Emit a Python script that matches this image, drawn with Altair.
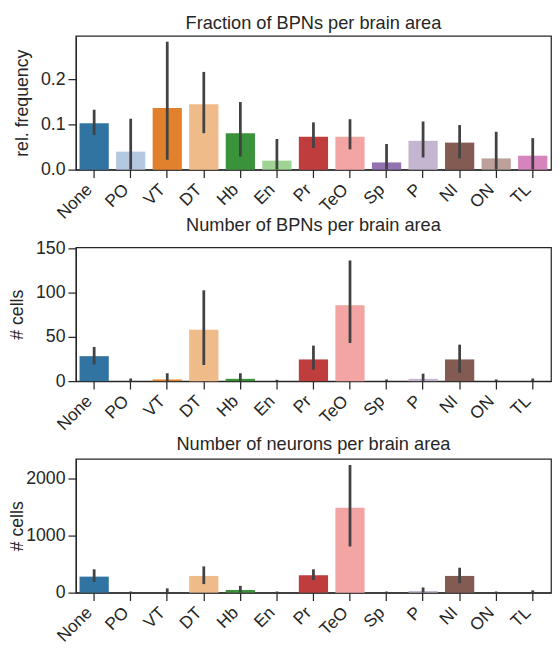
import colorsys
import altair as alt
import pandas as pd

areas = ["None", "PO", "VT", "DT", "Hb", "En", "Pr", "TeO", "Sp", "P", "NI", "ON", "TL"]

frac = [0.103, 0.040, 0.137, 0.145, 0.081, 0.020, 0.073, 0.073, 0.016, 0.064, 0.060, 0.025, 0.031]
frac_lo = [0.077, 0.0, 0.022, 0.081, 0.029, 0.0, 0.048, 0.045, 0.0, 0.027, 0.025, 0.0, 0.0]
frac_hi = [0.133, 0.113, 0.284, 0.217, 0.150, 0.068, 0.105, 0.112, 0.057, 0.107, 0.099, 0.084, 0.070]

bpn = [28.2, 0, 1.9, 57.9, 2.6, 0, 24.5, 85.8, 0, 2.6, 24.5, 0, 0]
bpn_lo = [18.9, 0, 0, 18.2, 0, 0, 13.0, 43.1, 0, 0, 9.3, 0, 0]
bpn_hi = [38.6, 3.0, 8.9, 102.5, 8.9, 1.5, 40.1, 136.2, 1.9, 8.5, 41.2, 1.9, 3.0]

neu = [281, 0, 0, 293, 47, 0, 305, 1486, 0, 29, 293, 0, 0]
neu_lo = [190, 0, 0, 150, 0, 0, 220, 809, 0, 0, 167, 0, 0]
neu_hi = [409, 20, 75, 460, 120, 20, 409, 2237, 20, 91, 437, 20, 40]

tab20 = ["#1f77b4", "#aec7e8", "#ff7f0e", "#ffbb78", "#2ca02c", "#98df8a", "#d62728",
         "#ff9896", "#9467bd", "#c5b0d5", "#8c564b", "#c49c94", "#e377c2"]


def desaturate(hexc, prop=0.75):
    r, g, b = (int(hexc[i:i + 2], 16) / 255 for i in (1, 3, 5))
    h, l, s = colorsys.rgb_to_hls(r, g, b)
    r, g, b = colorsys.hls_to_rgb(h, l, s * prop)
    return "#%02x%02x%02x" % (round(r * 255), round(g * 255), round(b * 255))


colors = [desaturate(c) for c in tab20]

FONT = "Liberation Sans"
DARK = "#262626"
W, H = 483, 136


def panel(vals, lo, hi, title, ytitle, domain_max, ticks, fmt, title_x, toff):
    df = pd.DataFrame({"area": areas, "v": vals, "lo": lo, "hi": hi})
    xenc = alt.X("area:N", sort=areas,
                 scale=alt.Scale(domain=areas, paddingInner=0.2, paddingOuter=0.1),
                 axis=alt.Axis(title=None, labelAngle=-45, labelAlign="right",
                               labelBaseline="top", labelPadding=3, labelOffset=-11,
                               labelFontSize=17.5))
    yscale = alt.Scale(domain=[0, domain_max], nice=False, zero=True)
    bars = alt.Chart(df).mark_bar().encode(
        x=xenc,
        y=alt.Y("v:Q", scale=yscale,
                axis=alt.Axis(title=ytitle, values=ticks, format=fmt,
                              titleX=title_x, titleY=H / 2)),
        color=alt.Color("area:N", scale=alt.Scale(domain=areas, range=colors), legend=None),
    )
    err = alt.Chart(df).mark_rule(color="#424242", strokeWidth=2.8).encode(
        x=alt.X("area:N", sort=areas),
        y=alt.Y("lo:Q", scale=yscale),
        y2="hi:Q",
    )
    return alt.layer(bars, err).properties(
        width=W, height=H,
        title=alt.TitleParams(title, fontSize=18.5, font=FONT, fontWeight="normal",
                              color=DARK, offset=toff),
    )


p1 = panel(frac, frac_lo, frac_hi, "Fraction of BPNs per brain area", "rel. frequency",
           0.297, [0.0, 0.1, 0.2], ".1f", -45, 3.5)
p2 = panel(bpn, bpn_lo, bpn_hi, "Number of BPNs per brain area", "# cells",
           151, [0, 50, 100, 150], "d", -50, 5)
p3 = panel(neu, neu_lo, neu_hi, "Number of neurons per brain area", "# cells",
           2345, [0, 1000, 2000], "d", -50, 5)

chart = alt.vconcat(p1, p2, p3, spacing=79, bounds="flush").properties(
    padding=0
).configure_view(
    stroke=DARK, strokeWidth=1.25
).configure_axis(
    domainColor=DARK, domainWidth=1.25, tickColor=DARK, tickWidth=1.25, tickSize=8,
    labelFont=FONT, labelFontSize=18, labelColor=DARK, labelPadding=3,
    titleFont=FONT, titleFontSize=18, titleColor=DARK, titleFontWeight="normal",
    grid=False,
)

chart.save("out.html", embed_options={"renderer": "svg", "actions": False})
